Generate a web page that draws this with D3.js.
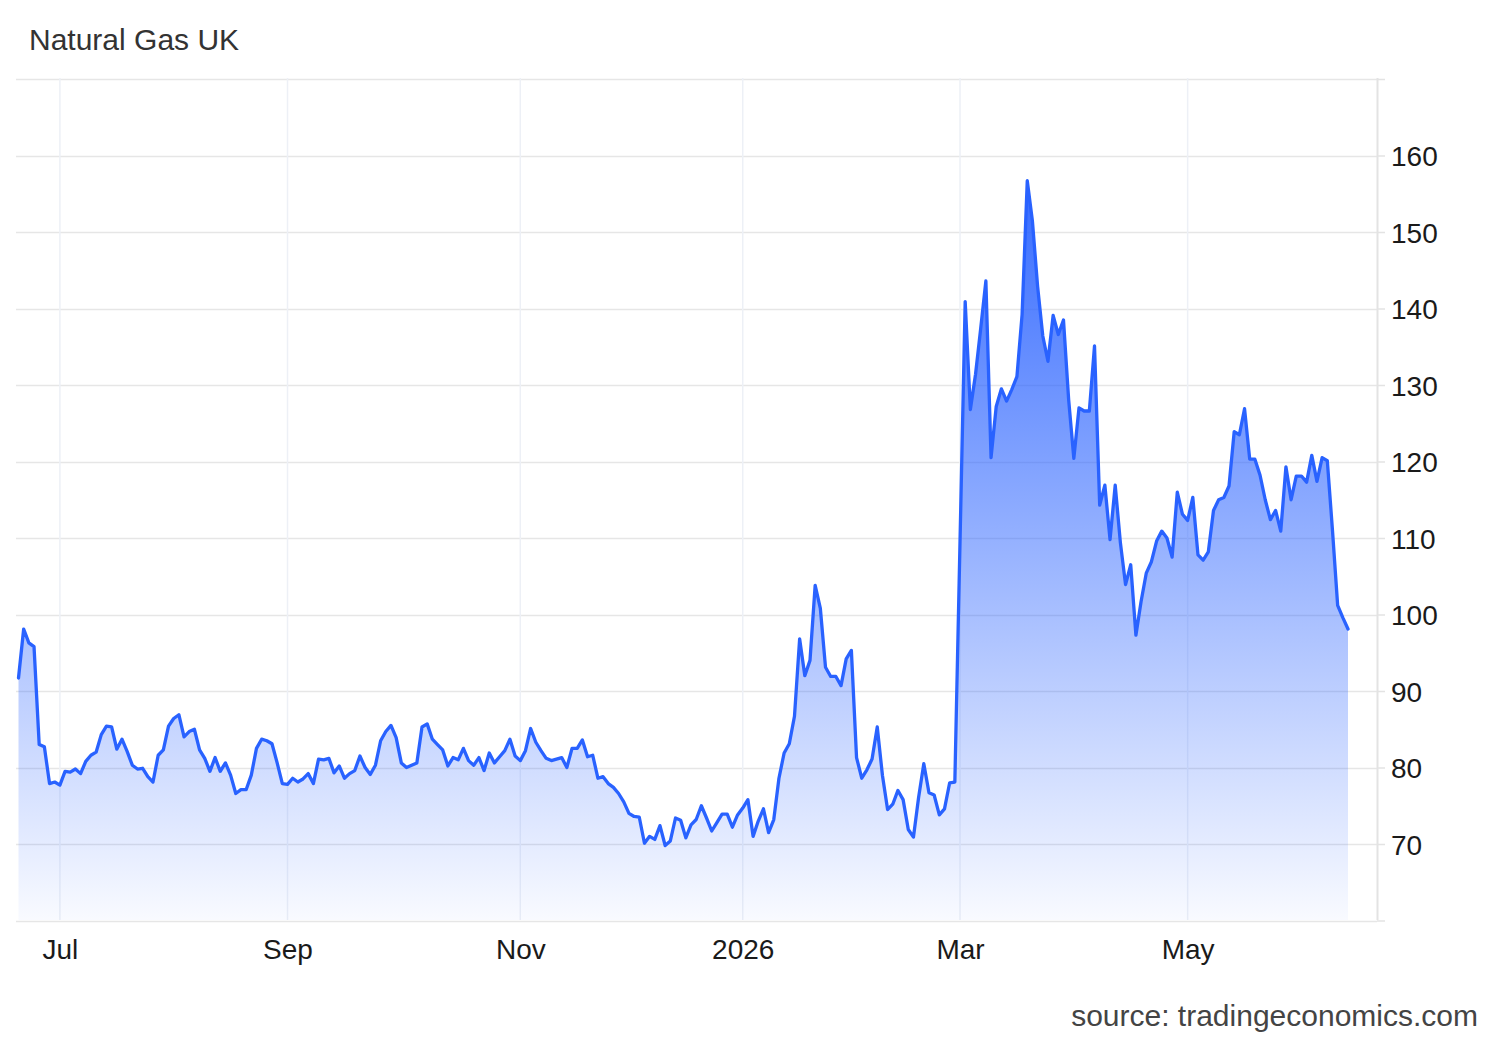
<!DOCTYPE html>
<html>
<head>
<meta charset="utf-8">
<script src="https://cdn.jsdelivr.net/npm/d3@7"></script>
<style>
  html, body { margin: 0; padding: 0; background: #fff; }
  svg { display: block; font-family: "Liberation Sans", Arial, sans-serif; }
</style>
</head>
<body>
<svg id="chart" width="1500" height="1040"></svg>
<script>
// ---- data ----
const title = "Natural Gas UK";
const source = "source: tradingeconomics.com";
const startDate = "2025-06-19"; // first trading day shown (weekday series)
const prices = [
  91.7, 98.1, 96.3, 95.8, 83.0, 82.7, 77.9, 78.1, 77.7, 79.5,
  79.4, 79.8, 79.2, 80.8, 81.6, 82.0, 84.3, 85.4, 85.3, 82.4,
  83.7, 82.1, 80.3, 79.8, 79.9, 78.8, 78.1, 81.6, 82.3, 85.4,
  86.4, 86.9, 84.0, 84.7, 85.0, 82.3, 81.2, 79.5, 81.3, 79.5,
  80.6, 79.0, 76.6, 77.1, 77.1, 79.0, 82.5, 83.7, 83.5, 83.1,
  80.6, 77.9, 77.8, 78.6, 78.1, 78.5, 79.2, 77.9, 81.1, 81.0,
  81.2, 79.3, 80.2, 78.6, 79.2, 79.6, 81.5, 80.0, 79.1, 80.3,
  83.5, 84.7, 85.5, 83.9, 80.6, 80.0, 80.3, 80.6, 85.3, 85.7,
  83.7, 83.0, 82.3, 80.2, 81.3, 81.0, 82.5, 80.9, 80.3, 81.3,
  79.6, 81.9, 80.6, 81.4, 82.2, 83.7, 81.5, 80.9, 82.2, 85.1,
  83.3, 82.2, 81.2, 80.9, 81.1, 81.3, 80.0, 82.5, 82.5, 83.6,
  81.4, 81.6, 78.6, 78.8, 77.9, 77.4, 76.6, 75.5, 74.0, 73.6,
  73.5, 70.1, 71.0, 70.6, 72.4, 69.8, 70.4, 73.4, 73.1, 70.8,
  72.5, 73.2, 75.0, 73.4, 71.7, 72.8, 73.9, 73.9, 72.2, 73.8,
  74.7, 75.8, 71.0, 73.0, 74.6, 71.5, 73.2, 78.6, 81.9, 83.1,
  86.7, 96.8, 92.0, 94.0, 103.8, 100.8, 93.1, 91.9, 91.9, 90.7,
  94.2, 95.3, 81.3, 78.6, 79.7, 81.1, 85.3, 79.0, 74.5, 75.2,
  77.0, 75.8, 71.9, 70.9, 76.1, 80.5, 76.7, 76.4, 73.8, 74.6,
  78.0, 78.1, 109.5, 140.9, 126.8, 131.4, 137.4, 143.6, 120.5, 127.2,
  129.5, 127.9, 129.4, 131.1, 139.2, 156.7, 151.4, 142.9, 136.4, 133.1,
  139.1, 136.6, 138.5, 128.1, 120.4, 127.0, 126.6, 126.6, 135.1, 114.3,
  116.9, 109.8, 116.9, 109.4, 103.9, 106.5, 97.3, 101.7, 105.4, 106.9,
  109.6, 110.9, 110.0, 107.5, 116.0, 113.1, 112.3, 115.3, 107.8, 107.1,
  108.2, 113.6, 115.0, 115.3, 116.8, 123.9, 123.5, 126.9, 120.3, 120.3,
  118.2, 115.0, 112.4, 113.6, 110.9, 119.3, 115.0, 118.1, 118.1, 117.3,
  120.8, 117.4, 120.5, 120.1, 111.0, 101.2, 99.6, 98.1
];
const yTicks = [70, 80, 90, 100, 110, 120, 130, 140, 150, 160];
const yGrid = [60, 70, 80, 90, 100, 110, 120, 130, 140, 150, 160, 170];
const xTickMonths = ["2025-07", "2025-09", "2025-11", "2026-01", "2026-03", "2026-05"];
const xTickLabels = ["Jul", "Sep", "Nov", "2026", "Mar", "May"];

// ---- build weekday dates ----
const dates = [];
{
  let d = new Date(startDate + "T00:00:00Z");
  while (dates.length < prices.length) {
    const wd = d.getUTCDay();
    if (wd !== 0 && wd !== 6) dates.push(new Date(d));
    d = new Date(d.getTime() + 86400000);
  }
}
const data = prices.map((v, i) => ({ i, date: dates[i], v }));

// ---- layout ----
const plotLeft = 16, plotRight = 1377, plotTop = 78, plotBottom = 920;
const svg = d3.select("#chart");

const x = d3.scaleLinear().domain([0, prices.length - 1]).range([18.5, 1348]);
const y = d3.scaleLinear().domain([70, 160]).range([844, 155.5]);

const fmtMonth = d3.utcFormat("%Y-%m");
const tickIdx = xTickMonths.map(m => data.find(p => fmtMonth(p.date) === m).i);

// gradient
const defs = svg.append("defs");
const grad = defs.append("linearGradient")
  .attr("id", "fillGrad")
  .attr("gradientUnits", "userSpaceOnUse")
  .attr("x1", 0).attr("x2", 0)
  .attr("y1", y(157)).attr("y2", plotBottom);
grad.append("stop").attr("offset", 0).attr("stop-color", "#2b63ff").attr("stop-opacity", 0.95);
grad.append("stop").attr("offset", 1).attr("stop-color", "#2b63ff").attr("stop-opacity", 0.03);

defs.append("clipPath").attr("id", "plotClip")
  .append("rect").attr("x", plotLeft).attr("y", plotTop - 2)
  .attr("width", plotRight - plotLeft).attr("height", plotBottom - plotTop + 2);

// horizontal gridlines
svg.append("g").selectAll("line").data(yGrid).join("line")
  .attr("x1", plotLeft).attr("x2", plotRight)
  .attr("y1", d => Math.round(y(d)) + 0.5).attr("y2", d => Math.round(y(d)) + 0.5)
  .attr("stroke", "#e6e6e6").attr("stroke-width", 1.5);

// vertical gridlines
svg.append("g").selectAll("line").data(tickIdx).join("line")
  .attr("x1", d => x(d)).attr("x2", d => x(d))
  .attr("y1", plotTop).attr("y2", plotBottom)
  .attr("stroke", "#edf0f6").attr("stroke-width", 1.5);

// area + line
const g = svg.append("g").attr("clip-path", "url(#plotClip)");
g.append("path").datum(data)
  .attr("d", d3.area().x(d => x(d.i)).y0(plotBottom).y1(d => y(d.v)))
  .attr("fill", "url(#fillGrad)");
g.append("path").datum(data)
  .attr("d", d3.line().x(d => x(d.i)).y(d => y(d.v)))
  .attr("fill", "none").attr("stroke", "#2962ff").attr("stroke-width", 3.3)
  .attr("stroke-linejoin", "round").attr("stroke-linecap", "round");

// right axis
const yAxis = d3.axisRight(y).tickValues(yGrid).tickSize(8).tickFormat(d => yTicks.includes(d) ? d : "");
const ya = svg.append("g").attr("transform", `translate(${plotRight},0)`).call(yAxis);
ya.select(".domain").attr("stroke", "#e3e3e3").attr("stroke-width", 2)
  .attr("d", `M0.5,${plotTop}V${plotBottom}`);
ya.selectAll(".tick line").attr("stroke", "#e3e3e3").attr("stroke-width", 1.5);
ya.selectAll(".tick text").attr("x", 14).attr("dy", "0.36em")
  .attr("font-size", 28).attr("fill", "#1a1a1a")
  .attr("font-family", "'Liberation Sans', Arial, sans-serif");

// x axis labels
const xAxis = d3.axisBottom(x).tickValues(tickIdx).tickSize(0)
  .tickFormat((d, k) => xTickLabels[k]);
const xa = svg.append("g").attr("transform", `translate(0,${plotBottom})`).call(xAxis);
xa.select(".domain").remove();
xa.selectAll(".tick text").attr("y", 39).attr("dy", 0)
  .attr("font-size", 28).attr("fill", "#1a1a1a")
  .attr("font-family", "'Liberation Sans', Arial, sans-serif");

// title & source
svg.append("text").attr("x", 29).attr("y", 50).text(title)
  .attr("font-size", 30).attr("fill", "#333");
svg.append("text").attr("x", 1478).attr("y", 1026).attr("text-anchor", "end").text(source)
  .attr("font-size", 30).attr("fill", "#444");
</script>
</body>
</html>
